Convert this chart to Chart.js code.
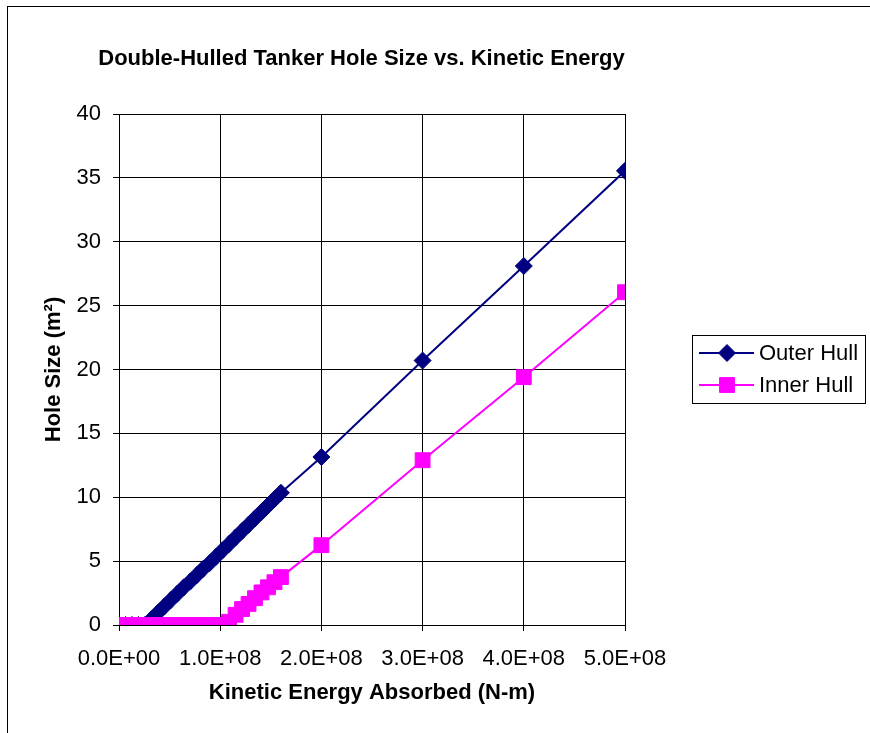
<!DOCTYPE html>
<html>
<head>
<meta charset="utf-8">
<script src="https://cdn.jsdelivr.net/npm/chart.js@4"></script>
<style>
  html, body { margin: 0; padding: 0; background: #fff; }
  #wrap { width: 870px; height: 733px; position: relative; }
</style>
</head>
<body>
<div id="wrap"><canvas id="hullChart"></canvas></div>
<script>
const CHART_TITLE = "Double-Hulled Tanker Hole Size vs. Kinetic Energy";
const X_TITLE = "Kinetic Energy Absorbed (N-m)";
const Y_TITLE = "Hole Size (m\u00B2)";
const SERIES_NAMES = ["Outer Hull", "Inner Hull"];

// kinetic energy absorbed (N-m)
const energy = [0, 6.4e6, 1.28e7, 1.92e7, 2.56e7, 3.2e7, 3.84e7, 4.48e7, 5.12e7, 5.76e7,
  6.4e7, 7.04e7, 7.68e7, 8.32e7, 8.96e7, 9.6e7, 1.024e8, 1.088e8, 1.152e8, 1.216e8,
  1.28e8, 1.344e8, 1.408e8, 1.472e8, 1.536e8, 1.6e8, 2e8, 3e8, 4e8, 5e8];

// hole size (m^2)
const outerHull = [0, 0, 0, 0, 0, 0.45, 0.95, 1.45, 1.95, 2.45,
  2.95, 3.4, 3.9, 4.4, 4.85, 5.35, 5.85, 6.35, 6.85, 7.35,
  7.85, 8.35, 8.85, 9.35, 9.85, 10.35, 13.15, 20.7, 28.1, 35.55];
const innerHull = [0, 0, 0, 0, 0, 0, 0, 0, 0, 0,
  0, 0, 0, 0, 0, 0, 0, 0.25, 0.8, 1.25,
  1.65, 2.1, 2.55, 2.95, 3.35, 3.75, 6.25, 12.9, 19.4, 26.05];

const X_MAX = 5e8, X_STEP = 1e8;
const Y_MAX = 40, Y_STEP = 5;

const FONT = "'Liberation Sans', Arial, Helvetica, sans-serif";
Chart.defaults.font.family = FONT;
Chart.defaults.color = "#000";

function toPoints(xs, ys) {
  return xs.map((x, i) => ({ x: x, y: ys[i] }));
}

function sciLabel(v) {
  // 1.0e+8 -> 1.0E+08
  const [m, e] = Number(v).toExponential(1).split("e");
  const sign = e[0] === "-" ? "-" : "+";
  const digits = e.replace(/[+-]/, "").padStart(2, "0");
  return m + "E" + sign + digits;
}

// frame, title and the boxed legend drawn the way the spreadsheet did
const decorPlugin = {
  id: "decor",
  afterDraw(chart) {
    const ctx = chart.ctx;
    ctx.save();
    ctx.strokeStyle = "#000";
    ctx.lineWidth = 1;
    ctx.strokeRect(7.5, 6.5, 1000, 1000);

    ctx.fillStyle = "#000";
    ctx.font = "bold 22px " + FONT;
    ctx.textAlign = "center";
    ctx.textBaseline = "alphabetic";
    ctx.fillText(CHART_TITLE, 361.5, 65);

    // legend
    ctx.strokeRect(692.5, 335.5, 173, 68);
    const rows = [353, 385];
    chart.data.datasets.forEach((ds, i) => {
      const y = rows[i];
      ctx.strokeStyle = ds.borderColor;
      ctx.lineWidth = ds.borderWidth;
      ctx.beginPath();
      ctx.moveTo(699, y);
      ctx.lineTo(754, y);
      ctx.stroke();
      ctx.fillStyle = ds.backgroundColor;
      ctx.lineWidth = 1;
      Chart.helpers.drawPoint(ctx, {
        pointStyle: ds.pointStyle, radius: ds.pointRadius, borderWidth: 1
      }, 727, y);
      ctx.fillStyle = "#000";
      ctx.font = "22px " + FONT;
      ctx.textAlign = "left";
      ctx.textBaseline = "middle";
      ctx.fillText(ds.label, 759, y + 1);
    });
    ctx.restore();
  }
};

new Chart(document.getElementById("hullChart"), {
  type: "scatter",
  data: {
    datasets: [
      {
        label: SERIES_NAMES[0],
        data: toPoints(energy, outerHull),
        showLine: true,
        borderColor: "#000080",
        backgroundColor: "#000080",
        borderWidth: 2,
        pointStyle: "rectRot",
        pointRadius: 8.5,
        pointBorderWidth: 1,
        order: 1
      },
      {
        label: SERIES_NAMES[1],
        data: toPoints(energy, innerHull),
        showLine: true,
        borderColor: "#FF00FF",
        backgroundColor: "#FF00FF",
        borderWidth: 2,
        pointStyle: "rect",
        pointRadius: 10.5,
        pointBorderWidth: 1,
        order: 0
      }
    ]
  },
  options: {
    responsive: true,
    maintainAspectRatio: false,
    animation: false,
    devicePixelRatio: 1,
    layout: { padding: { top: 114, left: 0, right: 245, bottom: 0 } },
    plugins: {
      legend: { display: false },
      tooltip: { enabled: false },
      title: { display: false }
    },
    scales: {
      x: {
        type: "linear",
        min: 0,
        max: X_MAX,
        afterFit(scale) { scale.height = 108; },
        afterBuildTicks(scale) {
          const t = [];
          for (let v = 0; v <= X_MAX; v += X_STEP) t.push({ value: v });
          scale.ticks = t;
        },
        ticks: {
          autoSkip: false,
          maxRotation: 0,
          padding: 15,
          font: { size: 22 },
          color: "#000",
          callback: v => sciLabel(v)
        },
        grid: { color: "#000", lineWidth: 1, tickLength: 6, tickColor: "#000" },
        border: { color: "#000", width: 1 },
        title: {
          display: true,
          text: X_TITLE,
          font: { size: 22, weight: "bold" },
          color: "#000",
          padding: { top: 0, bottom: 27 }
        }
      },
      y: {
        min: 0,
        max: Y_MAX,
        afterFit(scale) { scale.width = 119; },
        ticks: {
          stepSize: Y_STEP,
          padding: 12,
          font: { size: 22 },
          color: "#000"
        },
        grid: { color: "#000", lineWidth: 1, tickLength: 6, tickColor: "#000" },
        border: { color: "#000", width: 1 },
        title: {
          display: true,
          text: Y_TITLE,
          font: { size: 22, weight: "bold" },
          color: "#000",
          padding: { top: 41, bottom: 0 }
        }
      }
    }
  },
  plugins: [decorPlugin]
});
</script>
</body>
</html>
